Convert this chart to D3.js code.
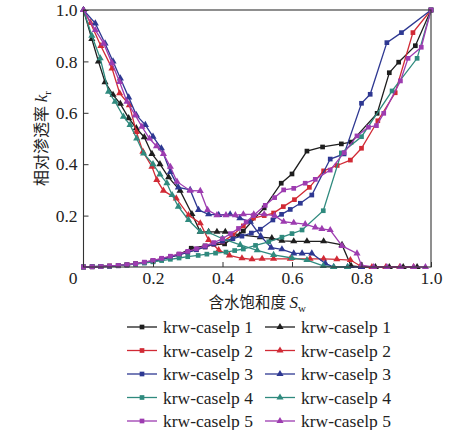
<!DOCTYPE html>
<html>
<head>
<meta charset="utf-8">
<script src="https://cdn.jsdelivr.net/npm/d3@7"></script>
<style>
html,body{margin:0;padding:0;background:#fff;}
svg{display:block;}
text{font-family:"Liberation Serif","Times New Roman","Noto Sans CJK SC",serif;fill:#222;}
</style>
</head>
<body>
<svg id="chart" width="474" height="430"></svg>
<script>
// ---------- data ----------
const seriesNames = ["krw-caselp 1","krw-caselp 2","krw-caselp 3","krw-caselp 4","krw-caselp 5"];
const seriesColors = ["#1e1e1e","#d12a35","#2e3892","#2f8a7e","#9d3cb0"];
const xTicks = [0.2,0.4,0.6,0.8,1.0];
const yTicks = [0.2,0.4,0.6,0.8,1.0];

// water relative permeability (square markers)  [Sw, kr]
const krw1 = [[0,0],[0.025,0.001],[0.05,0.002],[0.075,0.003],[0.1,0.005],[0.125,0.008],[0.15,0.012],[0.175,0.017],[0.2,0.023],[0.225,0.03],[0.25,0.038],[0.275,0.048],[0.31,0.073],[0.35,0.082],[0.406,0.09],[0.46,0.14],[0.52,0.23],[0.569,0.326],[0.6,0.362],[0.643,0.451],[0.688,0.467],[0.742,0.479],[0.77,0.486],[0.845,0.598],[0.88,0.756],[0.907,0.797],[0.955,0.861],[1,1]];
const krw2 = [[0,0],[0.025,0.001],[0.05,0.002],[0.075,0.004],[0.1,0.006],[0.125,0.009],[0.15,0.013],[0.175,0.018],[0.2,0.025],[0.225,0.032],[0.25,0.04],[0.275,0.049],[0.3,0.058],[0.325,0.068],[0.35,0.078],[0.375,0.088],[0.4,0.098],[0.43,0.125],[0.46,0.16],[0.489,0.19],[0.52,0.2],[0.547,0.21],[0.575,0.235],[0.607,0.262],[0.65,0.31],[0.691,0.374],[0.73,0.395],[0.768,0.416],[0.8,0.462],[0.847,0.569],[0.897,0.678],[0.948,0.912],[1,1]];
const krw3 = [[0,0],[0.025,0.001],[0.05,0.002],[0.075,0.003],[0.1,0.005],[0.125,0.008],[0.15,0.012],[0.175,0.017],[0.2,0.023],[0.225,0.03],[0.25,0.038],[0.275,0.047],[0.3,0.057],[0.325,0.067],[0.35,0.078],[0.375,0.089],[0.4,0.1],[0.43,0.11],[0.456,0.12],[0.483,0.132],[0.509,0.147],[0.545,0.183],[0.57,0.205],[0.595,0.224],[0.624,0.248],[0.657,0.28],[0.71,0.42],[0.75,0.44],[0.8,0.637],[0.825,0.672],[0.873,0.873],[0.915,0.912],[1,1]];
const krw4 = [[0,0],[0.025,0.001],[0.05,0.002],[0.075,0.003],[0.1,0.005],[0.125,0.008],[0.15,0.011],[0.175,0.015],[0.2,0.02],[0.225,0.025],[0.25,0.03],[0.275,0.035],[0.3,0.04],[0.33,0.045],[0.355,0.05],[0.38,0.054],[0.41,0.058],[0.435,0.064],[0.46,0.07],[0.495,0.084],[0.533,0.098],[0.571,0.116],[0.6,0.13],[0.629,0.144],[0.69,0.219],[0.742,0.444],[0.8,0.507],[0.888,0.685],[0.96,0.812],[1,1]];
const krw5 = [[0,0],[0.025,0.001],[0.05,0.002],[0.075,0.004],[0.1,0.006],[0.125,0.009],[0.15,0.013],[0.175,0.019],[0.2,0.026],[0.225,0.034],[0.25,0.042],[0.275,0.051],[0.3,0.061],[0.325,0.071],[0.35,0.082],[0.375,0.095],[0.4,0.11],[0.423,0.13],[0.446,0.15],[0.468,0.175],[0.489,0.2],[0.523,0.24],[0.55,0.27],[0.576,0.3],[0.605,0.306],[0.638,0.326],[0.667,0.341],[0.71,0.377],[0.75,0.445],[0.787,0.51],[0.82,0.544],[0.843,0.55],[0.864,0.598],[0.912,0.724],[0.934,0.812],[0.972,0.855],[1,1]];

// oil relative permeability (triangle markers)  [Sw, kr]
const kro1 = [[0,1],[0.024,0.887],[0.043,0.8],[0.062,0.719],[0.085,0.67],[0.106,0.635],[0.13,0.579],[0.152,0.54],[0.175,0.505],[0.197,0.44],[0.22,0.4],[0.245,0.349],[0.278,0.297],[0.312,0.206],[0.336,0.137],[0.36,0.137],[0.384,0.137],[0.408,0.137],[0.45,0.125],[0.509,0.116],[0.542,0.112],[0.571,0.102],[0.605,0.1],[0.643,0.1],[0.691,0.1],[0.744,0.086],[0.77,0.004],[0.8,0],[0.84,0],[0.88,0],[0.92,0],[0.96,0]];
const kro2 = [[0,1],[0.02,0.95],[0.05,0.86],[0.082,0.773],[0.104,0.676],[0.132,0.63],[0.152,0.526],[0.171,0.449],[0.197,0.39],[0.211,0.339],[0.23,0.297],[0.267,0.267],[0.302,0.202],[0.336,0.17],[0.36,0.105],[0.389,0.066],[0.42,0.045],[0.456,0.034],[0.485,0.03],[0.514,0.032],[0.547,0.032],[0.595,0.032],[0.652,0.032],[0.691,0.032],[0.729,0.03],[0.768,0.027],[0.797,0.004],[0.83,0],[0.87,0],[0.91,0],[0.95,0]];
const kro3 = [[0,1],[0.034,0.948],[0.062,0.87],[0.085,0.8],[0.106,0.734],[0.13,0.66],[0.152,0.591],[0.178,0.553],[0.2,0.507],[0.224,0.462],[0.25,0.37],[0.273,0.31],[0.307,0.3],[0.331,0.222],[0.36,0.205],[0.389,0.203],[0.422,0.205],[0.45,0.19],[0.48,0.176],[0.51,0.12],[0.54,0.075],[0.571,0.069],[0.605,0.053],[0.629,0.053],[0.657,0.053],[0.696,0.014],[0.72,0],[0.76,0],[0.8,0]];
const kro4 = [[0,1],[0.024,0.9],[0.048,0.812],[0.072,0.682],[0.091,0.643],[0.115,0.585],[0.134,0.553],[0.153,0.5],[0.173,0.442],[0.2,0.4],[0.22,0.36],[0.24,0.326],[0.255,0.28],[0.273,0.235],[0.302,0.183],[0.336,0.137],[0.36,0.135],[0.4,0.11],[0.451,0.086],[0.5,0.065],[0.547,0.047],[0.6,0.035],[0.643,0.027],[0.69,0.004],[0.72,0],[0.76,0]];
const kro5 = [[0,1],[0.034,0.922],[0.058,0.87],[0.082,0.793],[0.104,0.72],[0.125,0.643],[0.149,0.591],[0.168,0.546],[0.19,0.5],[0.21,0.47],[0.23,0.44],[0.25,0.39],[0.269,0.332],[0.307,0.297],[0.336,0.296],[0.357,0.222],[0.384,0.202],[0.41,0.202],[0.437,0.202],[0.46,0.205],[0.49,0.205],[0.52,0.205],[0.55,0.2],[0.576,0.176],[0.605,0.172],[0.638,0.167],[0.667,0.154],[0.686,0.148],[0.71,0.144],[0.744,0.082],[0.787,0.053],[0.8,0.006],[0.835,0],[0.873,0],[0.912,0],[0.95,0],[0.984,0]];

const krwSeries = [krw1,krw2,krw3,krw4,krw5];
const kroSeries = [kro1,kro2,kro3,kro4,kro5];

// ---------- chart ----------
const svg = d3.select("#chart");
const x = d3.scaleLinear().domain([0,1]).range([83.5,431]);
const y = d3.scaleLinear().domain([0,1]).range([267,10]);

const line = d3.line().x(d=>x(d[0])).y(d=>y(d[1]));
const sq = d3.symbol().type(d3.symbolSquare).size(22);
const tri = d3.symbol().type(d3.symbolTriangle).size(22);

const plot = svg.append("g");
function drawSeries(data, color, sym){
  const g = plot.append("g");
  g.append("path").attr("d", line(data)).attr("fill","none")
    .attr("stroke", color).attr("stroke-width",1.3);
  g.selectAll("path.m").data(data).join("path").attr("class","m")
    .attr("transform", d=>`translate(${x(d[0])},${y(d[1])})`)
    .attr("d", sym).attr("fill", color);
}
for(let i=0;i<5;i++){
  drawSeries(krwSeries[i], seriesColors[i], sq);
  drawSeries(kroSeries[i], seriesColors[i], tri);
}

// frame
svg.append("rect").attr("x",x(0)).attr("y",y(1)).attr("width",x(1)-x(0)).attr("height",y(0)-y(1))
  .attr("fill","none").attr("stroke","#333").attr("stroke-width",1.1);

// axes
const fmt = d3.format(".1f");
const ax = svg.append("g").attr("transform",`translate(0,${y(0)})`)
  .call(d3.axisBottom(x).tickValues(xTicks).tickFormat(fmt).tickSizeInner(-5).tickSizeOuter(0).tickPadding(5));
const ay = svg.append("g").attr("transform",`translate(${x(0)},0)`)
  .call(d3.axisLeft(y).tickValues(yTicks).tickFormat(fmt).tickSizeInner(-5).tickSizeOuter(0).tickPadding(6));
[ax,ay].forEach(a=>{
  a.select(".domain").remove();
  a.selectAll(".tick line").attr("stroke","#333");
  a.selectAll("text").attr("font-family","'Liberation Serif',serif").attr("font-size",17.5).attr("fill","#222");
});
svg.append("text").attr("x",x(0)-6).attr("y",y(0)+5).attr("dy","0.71em").attr("text-anchor","end")
  .attr("font-size",17.5).text("0");

// axis titles
const xt = svg.append("text").attr("x",(x(0)+x(1))/2).attr("y",308).attr("text-anchor","middle").attr("font-size",17);
xt.append("tspan").attr("font-family","'Noto Sans CJK SC',sans-serif").attr("font-size",15.5).text("含水饱和度 ");
xt.append("tspan").attr("font-style","italic").text("S");
xt.append("tspan").attr("font-size",11).attr("dy",4).text("w");

const yt = svg.append("text").attr("transform",`translate(47,${(y(0)+y(1))/2}) rotate(-90)`)
  .attr("text-anchor","middle").attr("font-size",17);
yt.append("tspan").attr("font-family","'Noto Sans CJK SC',sans-serif").attr("font-size",16).text("相对渗透率 ");
yt.append("tspan").attr("font-style","italic").text("k");
yt.append("tspan").attr("font-size",11).attr("dy",4).text("r");

// legend
const legRows = [327,350.5,374,397.5,421];
const legCols = [{x0:127, sym:sq},{x0:265, sym:tri}];
legCols.forEach(c=>{
  seriesNames.forEach((name,i)=>{
    const g = svg.append("g").attr("transform",`translate(${c.x0},${legRows[i]})`);
    g.append("line").attr("x1",0).attr("x2",30).attr("y1",0).attr("y2",0)
      .attr("stroke",seriesColors[i]).attr("stroke-width",1.3);
    g.append("path").attr("transform","translate(15,0)").attr("d",c.sym()).attr("fill",seriesColors[i]);
    g.append("text").attr("x",36).attr("y",0).attr("dy","0.35em").attr("font-size",17.5).text(name);
  });
});
</script>
</body>
</html>
